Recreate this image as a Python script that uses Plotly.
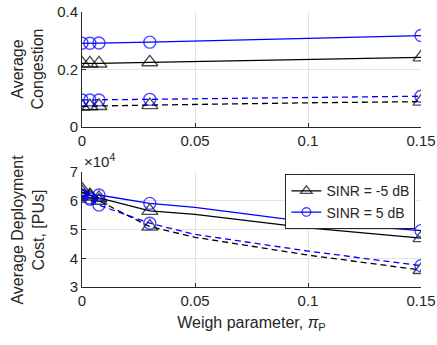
import plotly.graph_objects as go

# Weigh parameter values (x)
x_vals = [0, 0.0035, 0.0075, 0.03, 0.05, 0.1, 0.15]
# markers shown only at these points (1 = marker, 0 = none)
marker_on = [1, 1, 1, 1, 0, 0, 1]

# Average congestion
cong_m5_solid = [0.221, 0.221, 0.221, 0.225, 0.228, 0.236, 0.242]
cong_m5_dash = [0.071, 0.072, 0.073, 0.076, 0.079, 0.084, 0.088]
cong_p5_solid = [0.291, 0.291, 0.292, 0.295, 0.298, 0.308, 0.318]
cong_p5_dash = [0.094, 0.094, 0.094, 0.096, 0.098, 0.102, 0.107]

# Average deployment cost [PUs]
cost_m5_solid = [64000, 62000, 61000, 56500, 55300, 50600, 47000]
cost_m5_dash = [63000, 61500, 60000, 51000, 47300, 41100, 35900]
cost_p5_solid = [62000, 61000, 62000, 59100, 57700, 52700, 49600]
cost_p5_dash = [61500, 60500, 58500, 52200, 48300, 42500, 37400]

legend_names = ["SINR = -5 dB", "SINR = 5 dB"]
cost_ticks = [30000, 40000, 50000, 60000, 70000]
cost_tick_labels = ["3", "4", "5", "6", "7"]

BLACK = "#000000"
BLUE = "#0000ff"
FONT = "Liberation Sans, Arial, sans-serif"
TXT = "#262626"

def msize(s):
    return [s if m else 0 for m in marker_on]

fig = go.Figure()

def add(y, color, symbol, dash, xa, ya, name=None, show=False):
    size = 14 if symbol.startswith("triangle") else 12
    fig.add_trace(go.Scatter(
        x=x_vals, y=y, xaxis=xa, yaxis=ya,
        mode="lines+markers",
        line=dict(color=color, width=1.3, dash=dash),
        marker=dict(symbol=symbol, size=msize(size), color=color,
                    line=dict(color=color, width=1.4)),
        name=name, showlegend=show,
    ))

DASH = "6px,4px"
# top panel
add(cong_m5_solid, BLACK, "triangle-up-open", "solid", "x", "y")
add(cong_m5_dash, BLACK, "triangle-up-open", DASH, "x", "y")
add(cong_p5_solid, BLUE, "circle-open", "solid", "x", "y")
add(cong_p5_dash, BLUE, "circle-open", DASH, "x", "y")
# bottom panel
add(cost_m5_solid, BLACK, "triangle-up-open", "solid", "x2", "y2", legend_names[0], True)
add(cost_m5_dash, BLACK, "triangle-up-open", DASH, "x2", "y2")
add(cost_p5_solid, BLUE, "circle-open", "solid", "x2", "y2", legend_names[1], True)
add(cost_p5_dash, BLUE, "circle-open", DASH, "x2", "y2")

axis_common = dict(
    showgrid=True, gridcolor="#e3e3e3", gridwidth=1,
    showline=True, linecolor="#262626", linewidth=1,
    ticks="inside", ticklen=4, tickcolor="#262626",
    tickfont=dict(family=FONT, size=15, color=TXT),
    zeroline=False, mirror=False, automargin=False,
)

xticks = [0, 0.05, 0.1, 0.15]
xlabels = ["0", "0.05", "0.1", "0.15"]

fig.update_layout(
    width=437, height=345,
    margin=dict(l=82, r=16, t=12, b=58, autoexpand=False),
    plot_bgcolor="white", paper_bgcolor="white",
    font=dict(family=FONT, size=15, color=TXT),
    xaxis=dict(axis_common, domain=[0, 1], anchor="y", range=[0, 0.15],
               tickvals=xticks, ticktext=xlabels),
    yaxis=dict(axis_common, domain=[0.582, 1], anchor="x", range=[0, 0.4],
               tickvals=[0, 0.2, 0.4], ticktext=["0", "0.2", "0.4"]),
    xaxis2=dict(axis_common, domain=[0, 1], anchor="y2", range=[0, 0.15],
                tickvals=xticks, ticktext=xlabels,
                title=dict(text="Weigh parameter, <i>π</i><sub>P</sub>", standoff=8,
                           font=dict(family=FONT, size=16, color=TXT))),
    yaxis2=dict(axis_common, domain=[0, 0.418], anchor="x2", range=[30000, 70000],
                tickvals=cost_ticks, ticktext=cost_tick_labels),
    legend=dict(x=0.6, y=0.41, xanchor="left", yanchor="top",
                bgcolor="white", bordercolor="#262626", borderwidth=1,
                font=dict(family=FONT, size=14, color=TXT),
                tracegroupgap=0, itemwidth=30),
    showlegend=True,
)

# y-axis titles
fig.add_annotation(text="Average<br>Congestion", xref="paper", yref="paper",
                   x=0, y=0.791, xshift=-54, xanchor="center", yanchor="middle",
                   textangle=-90, showarrow=False,
                   font=dict(family=FONT, size=16, color=TXT))
fig.add_annotation(text="Average Deployment<br>Cost, [PUs]", xref="paper", yref="paper",
                   x=0, y=0.209, xshift=-54, xanchor="center", yanchor="middle",
                   textangle=-90, showarrow=False,
                   font=dict(family=FONT, size=16, color=TXT))

fig.add_annotation(text="×10<sup>4</sup>", xref="paper", yref="paper",
                   x=0, y=0.418, xanchor="left", yanchor="bottom",
                   showarrow=False, font=dict(family=FONT, size=15, color=TXT))

fig.write_html("out.html", config={"displayModeBar": False},
               post_script="document.body.style.margin='0';")
